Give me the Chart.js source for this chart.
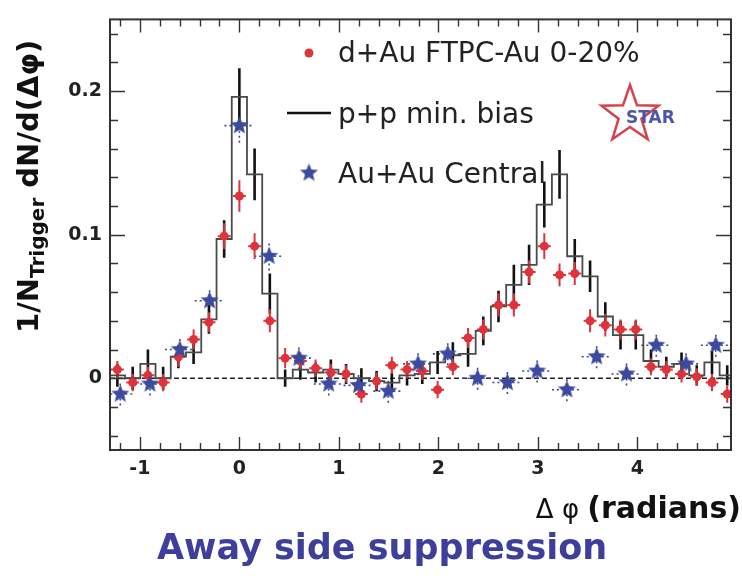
<!DOCTYPE html>
<html><head><meta charset="utf-8">
<script src="https://cdn.jsdelivr.net/npm/chart.js@4.4.0/dist/chart.umd.min.js"></script>
<style>html,body{margin:0;padding:0;background:#fff}#wrap{width:742px;height:578px}</style>
</head><body><div id="wrap"><canvas id="c" width="742" height="578"></canvas></div>
<script>
// ---- data ----
const binX = [-1.226,-1.072,-0.919,-0.766,-0.613,-0.460,-0.306,-0.153,0.000,0.153,0.306,0.460,
  0.613,0.766,0.919,1.072,1.226,1.379,1.532,1.685,1.838,
  1.992,2.145,2.298,2.451,2.604,2.758,2.911,3.064,3.217,3.370,3.524,3.677,3.830,3.983,4.136,4.290,4.443,4.596,4.749,4.902];
const dAuY = [0.006,-0.003,0.002,-0.003,0.015,0.027,0.039,0.099,0.127,0.092,0.040,0.014,
  0.012,0.007,0.004,0.003,-0.011,-0.002,0.009,0.006,0.005,
  -0.008,0.008,0.028,0.034,0.051,0.051,0.074,0.092,0.072,0.073,0.040,0.037,0.034,0.034,0.008,0.006,0.003,0.001,-0.003,-0.011];
const dAuErr = [0.006,0.006,0.006,0.006,0.007,0.007,0.007,0.009,0.011,0.009,0.008,0.007,
  0.006,0.006,0.006,0.006,0.006,0.006,0.006,0.006,0.006,
  0.006,0.006,0.007,0.007,0.008,0.008,0.008,0.009,0.008,0.008,0.008,0.008,0.007,0.007,0.006,0.006,0.006,0.006,0.006,0.006];
const ppY = [0.002,0.000,0.010,0.000,0.015,0.018,0.041,0.097,0.196,0.142,0.059,0.000,
  0.006,0.004,0.006,0.003,0.000,-0.002,-0.003,0.002,0.003,
  0.011,0.016,0.017,0.033,0.050,0.065,0.079,0.121,0.142,0.085,0.071,0.043,0.030,0.030,0.012,0.008,0.010,0.002,0.011,0.002];
const ppErr = [0.008,0.008,0.010,0.008,0.008,0.008,0.010,0.013,0.020,0.018,0.014,0.006,
  0.007,0.007,0.007,0.007,0.007,0.007,0.007,0.007,0.007,
  0.008,0.009,0.009,0.010,0.011,0.014,0.014,0.016,0.017,0.012,0.011,0.010,0.010,0.010,0.008,0.007,0.008,0.007,0.008,0.007];
const auauX = [-1.197,-0.898,-0.598,-0.299,0.000,0.299,0.598,0.898,1.197,1.496,1.795,2.094,2.394,2.693,2.992,3.291,3.590,3.890,4.189,4.488,4.787];
const auauY = [-0.011,-0.004,0.020,0.054,0.176,0.085,0.014,-0.004,-0.005,-0.009,0.010,0.017,0.000,-0.003,0.005,-0.008,0.015,0.003,0.023,0.010,0.023];
const auauErr = [0.008,0.008,0.008,0.008,0.012,0.010,0.008,0.008,0.008,0.008,0.008,0.008,0.008,0.008,0.008,0.008,0.008,0.008,0.008,0.008,0.008];
const dAuXErr = 0.065;
const auauXErr = 0.15;
const xTicks = [-1,0,1,2,3,4];
const xTickLabels = ['-1','0','1','2','3','4'];
const yTicks = [0,0.1,0.2];
const yTickLabels = ['0','0.1','0.2'];
const X_MIN = -1.30, X_MAX = 4.94, Y_MIN = -0.05, Y_MAX = 0.25;
const legendLabels = ['d+Au FTPC-Au 0-20%','p+p min. bias','Au+Au Central'];

const RED = '#e0323a', BLUE = '#3b4a9e', FONT = '"DejaVu Sans", "Liberation Sans", sans-serif';

function starPath(g, cx, cy, R, r){
  g.beginPath();
  for (let i=0;i<10;i++){ const a=-Math.PI/2+i*Math.PI/5, rr=i%2?r:R; g.lineTo(cx+rr*Math.cos(a), cy+rr*Math.sin(a)); }
  g.closePath();
}
function makeStar(R, r, fill){
  const s = Math.ceil(2*R+2), c = document.createElement('canvas'); c.width=c.height=s;
  const g=c.getContext('2d'); starPath(g, s/2, s/2, R, r); g.fillStyle=fill; g.fill(); return c;
}
const starImg = makeStar(9.5, 4.2, BLUE);

const ppData = [{x:X_MIN, y:ppY[0]}].concat(binX.map((x,i)=>({x, y:ppY[i]}))).concat([{x:X_MAX, y:ppY[ppY.length-1]}]);

const errPlugin = {
  id:'errs',
  beforeDatasetsDraw(chart){
    const {ctx, scales:{x, y}, chartArea:a} = chart;
    ctx.save();
    ctx.beginPath(); ctx.rect(a.left, a.top, a.right-a.left, a.bottom-a.top); ctx.clip();
    // zero line
    ctx.strokeStyle='#222'; ctx.lineWidth=1.5; ctx.setLineDash([5,3]);
    ctx.beginPath(); ctx.moveTo(a.left, y.getPixelForValue(0)); ctx.lineTo(a.right, y.getPixelForValue(0)); ctx.stroke();
    // Au+Au dotted error bars
    ctx.strokeStyle=BLUE; ctx.lineWidth=1.6; ctx.setLineDash([2,3]);
    auauX.forEach((xv,i)=>{
      const px=x.getPixelForValue(xv), py=y.getPixelForValue(auauY[i]);
      ctx.beginPath();
      ctx.moveTo(x.getPixelForValue(xv-auauXErr), py); ctx.lineTo(x.getPixelForValue(xv+auauXErr), py);
      ctx.moveTo(px, y.getPixelForValue(auauY[i]-auauErr[i])); ctx.lineTo(px, y.getPixelForValue(auauY[i]+auauErr[i]));
      ctx.stroke();
    });
    ctx.setLineDash([]);
    // p+p error bars
    ctx.strokeStyle='#111'; ctx.lineWidth=2.6;
    binX.forEach((xv,i)=>{
      const px=x.getPixelForValue(xv);
      ctx.beginPath(); ctx.moveTo(px, y.getPixelForValue(ppY[i]-ppErr[i])); ctx.lineTo(px, y.getPixelForValue(ppY[i]+ppErr[i])); ctx.stroke();
    });
    // d+Au error bars
    ctx.strokeStyle=RED; ctx.lineWidth=2;
    binX.forEach((xv,i)=>{
      const px=x.getPixelForValue(xv), py=y.getPixelForValue(dAuY[i]);
      ctx.beginPath();
      ctx.moveTo(x.getPixelForValue(xv-dAuXErr), py); ctx.lineTo(x.getPixelForValue(xv+dAuXErr), py);
      ctx.moveTo(px, y.getPixelForValue(dAuY[i]-dAuErr[i])); ctx.lineTo(px, y.getPixelForValue(dAuY[i]+dAuErr[i]));
      ctx.stroke();
    });
    ctx.restore();
  }
};

const decorPlugin = {
  id:'decor',
  afterDraw(chart){
    const {ctx, scales:{x, y}, chartArea:a} = chart;
    ctx.save();
    // inward ticks on all four sides
    ctx.strokeStyle='#333'; ctx.lineWidth=1.4;
    ctx.beginPath();
    for (let v=-1.2; v<=X_MAX+1e-9; v+=0.2){
      const px=Math.round(x.getPixelForValue(v))+0.5, major=Math.abs(v-Math.round(v))<1e-6, L=major?13:7;
      ctx.moveTo(px,a.bottom); ctx.lineTo(px,a.bottom-L);
      ctx.moveTo(px,a.top); ctx.lineTo(px,a.top+L);
    }
    for (let v=-0.04; v<=Y_MAX+1e-9; v+=0.02){
      const py=Math.round(y.getPixelForValue(v))+0.5, major=Math.abs(v*10-Math.round(v*10))<1e-6, L=major?15:8;
      ctx.moveTo(a.left,py); ctx.lineTo(a.left+L,py);
      ctx.moveTo(a.right,py); ctx.lineTo(a.right-L,py);
    }
    ctx.stroke();
    // frame
    ctx.lineWidth=2; ctx.strokeStyle='#333';
    ctx.strokeRect(a.left, a.top, a.right-a.left, a.bottom-a.top);

    // legend
    ctx.fillStyle='#222'; ctx.font='28px '+FONT; ctx.textBaseline='alphabetic'; ctx.textAlign='left';
    ctx.fillText(legendLabels[0], 338, 62);
    ctx.fillText(legendLabels[1], 338, 123);
    ctx.fillText(legendLabels[2], 338, 183);
    ctx.fillStyle=RED; ctx.beginPath(); ctx.arc(309,53,4.5,0,2*Math.PI); ctx.fill();
    ctx.strokeStyle='#111'; ctx.lineWidth=2.5; ctx.beginPath(); ctx.moveTo(287,113); ctx.lineTo(331,113); ctx.stroke();
    ctx.drawImage(starImg, 309-starImg.width/2, 173-starImg.height/2);

    // STAR logo
    ctx.strokeStyle='#d8404c'; ctx.lineWidth=2.5; starPath(ctx, 630, 115, 30, 12); ctx.stroke();
    ctx.fillStyle='#4c56aa'; ctx.font='bold 17px '+FONT; ctx.fillText('STAR', 626, 123);

    // y title with subscript
    ctx.save(); ctx.translate(38, 333); ctx.rotate(-Math.PI/2);
    ctx.fillStyle='#111'; ctx.font='bold 29px '+FONT; ctx.fillText('1/N', 0, 0);
    let w = ctx.measureText('1/N').width;
    ctx.font='bold 20px '+FONT; ctx.fillText('Trigger', w, 6); w += ctx.measureText('Trigger').width;
    ctx.font='bold 29px '+FONT; ctx.fillText(' dN/d(\u0394\u03c6)', w, 0);
    ctx.restore();

    // x title
    ctx.fillStyle='#111'; ctx.font='bold 30px '+FONT; ctx.textAlign='right';
    ctx.fillText('(radians)', 741, 518);
    const wr = ctx.measureText('(radians)').width;
    ctx.font='26px '+FONT; ctx.fillText('\u0394 \u03c6 ', 741-wr, 518);

    // caption
    ctx.textAlign='left'; ctx.fillStyle='#3d3f9a'; ctx.font='bold 35px '+FONT;
    ctx.fillText('Away side suppression', 157, 559);
    ctx.restore();
  }
};

new Chart(document.getElementById('c'), {
  type:'scatter',
  data:{ datasets:[
    { label:legendLabels[2], data:auauX.map((x,i)=>({x, y:auauY[i]})), pointStyle:starImg, pointRadius:10 },
    { label:legendLabels[0], data:binX.map((x,i)=>({x, y:dAuY[i]})), pointStyle:'circle', pointRadius:4.5, backgroundColor:RED, borderWidth:0 },
    { label:legendLabels[1], data:ppData, showLine:true, stepped:'middle', borderColor:'#4a4a4a', borderWidth:1.8, pointRadius:0, fill:false }
  ]},
  options:{
    responsive:false, animation:false, events:[],
    layout:{ padding:{ top:11, right:2, left:0, bottom:0 } },
    plugins:{ legend:{display:false}, tooltip:{enabled:false} },
    scales:{
      x:{ type:'linear', min:X_MIN, max:X_MAX,
        afterBuildTicks:(s)=>{ s.ticks = xTicks.map(v=>({value:v})); },
        afterFit:(s)=>{ s.height = 128; },
        grid:{ display:false, drawTicks:false }, border:{ display:false },
        ticks:{ padding:8, color:'#222', font:{ family:'DejaVu Sans', size:19, weight:'bold' },
          callback:(v)=>xTickLabels[xTicks.indexOf(v)] } },
      y:{ type:'linear', min:Y_MIN, max:Y_MAX,
        afterBuildTicks:(s)=>{ s.ticks = yTicks.map(v=>({value:v})); },
        afterFit:(s)=>{ s.width = 110; },
        grid:{ display:false, drawTicks:false }, border:{ display:false },
        ticks:{ padding:8, color:'#222', font:{ family:'DejaVu Sans', size:19, weight:'bold' },
          callback:(v)=>yTickLabels[yTicks.indexOf(v)] } }
    }
  },
  plugins:[errPlugin, decorPlugin]
});
</script></body></html>
